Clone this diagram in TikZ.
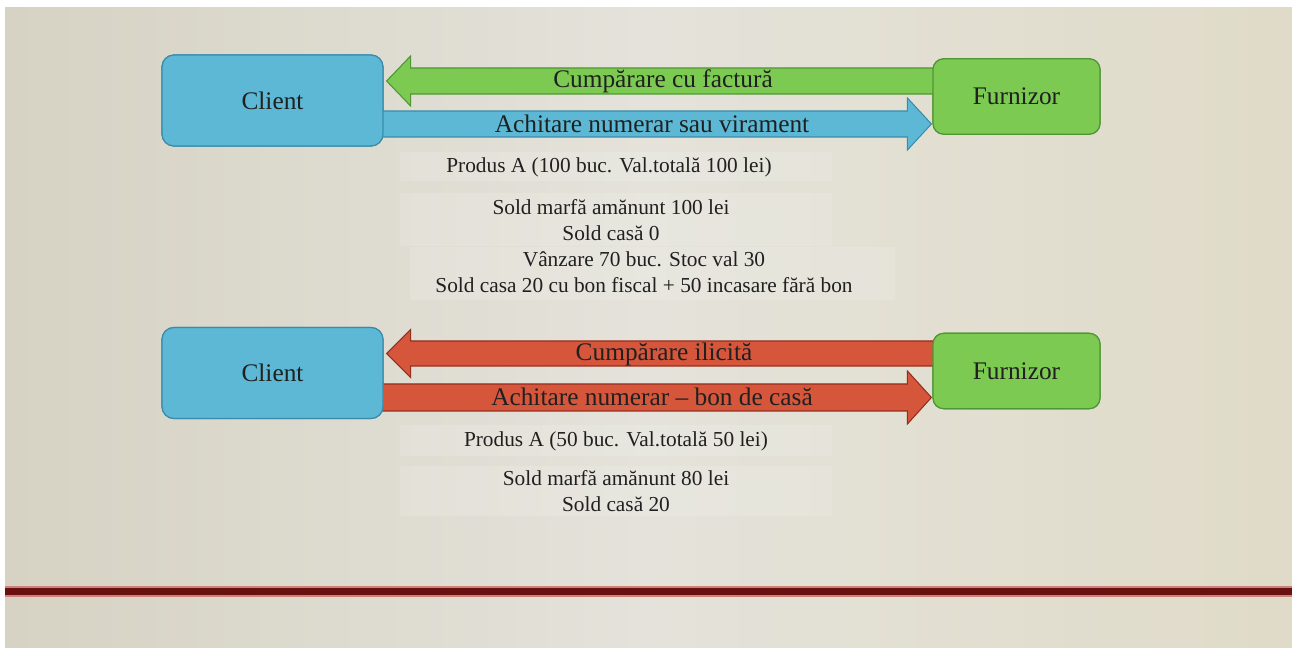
\documentclass[tikz,border=0pt]{standalone}
\usepackage{fontspec}
\setmainfont{Liberation Serif}
\usetikzlibrary{calc}
\definecolor{bgL}{RGB}{214,211,196}
\definecolor{bgM}{RGB}{228,226,218}
\definecolor{bgR}{RGB}{224,219,200}
\definecolor{boxblue}{RGB}{92,184,213}
\definecolor{boxblueD}{RGB}{58,140,170}
\definecolor{boxgreen}{RGB}{124,202,82}
\definecolor{boxgreenD}{RGB}{78,150,52}
\definecolor{arrred}{RGB}{214,86,60}
\definecolor{arrredD}{RGB}{150,45,28}
\definecolor{txt}{RGB}{32,32,32}
\definecolor{lineD}{RGB}{105,16,16}
\definecolor{lineL}{RGB}{205,130,120}
\tikzset{
  cbox/.style={draw=boxblueD, line width=0.9pt, fill=boxblue, rounded corners=9pt,
    minimum width=165.75pt, minimum height=68.25pt, inner sep=0pt,
    font=\fontsize{19}{22}\selectfont, text=txt},
  fbox/.style={draw=boxgreenD, line width=0.9pt, fill=boxgreen, rounded corners=8pt,
    minimum width=125.25pt, minimum height=56.5pt, inner sep=0pt,
    font=\fontsize{19}{22}\selectfont, text=txt},
  blueA/.style={draw=boxblueD, line width=0.8pt, fill=boxblue},
  greenA/.style={draw=boxgreenD, line width=0.8pt, fill=boxgreen},
  redA/.style={draw=arrredD, line width=0.8pt, fill=arrred},
  arrtext/.style={font=\fontsize{19}{22}\selectfont, text=txt, inner sep=0pt},
  bodytext/.style={font=\fontsize{16}{19.5}\selectfont, text=txt, inner sep=0pt, align=center},
  panel/.style={fill=white, fill opacity=0.14, draw=none}
}
% left-pointing block arrow: #1 style, #2 tail, #3 tip, #4 shaft half, #5 head half
\newcommand{\leftblock}[5]{%
  \draw[#1] ($(#2)+(2,-#4)$) -- ($(#3)+(27,-#4)$) -- ($(#3)+(27,-#5)$) -- ($(#3)+(3,0)$)
    -- ($(#3)+(27,#5)$) -- ($(#3)+(27,#4)$) -- ($(#2)+(2,#4)$) -- cycle;}
\newcommand{\rightblock}[5]{%
  \draw[#1] ($(#2)+(-2,-#4)$) -- ($(#3)+(-25,-#4)$) -- ($(#3)+(-25,-#5)$) -- ($(#3)+(-1,0)$)
    -- ($(#3)+(-25,#5)$) -- ($(#3)+(-25,#4)$) -- ($(#2)+(-2,#4)$) -- cycle;}
\begin{document}
\begin{tikzpicture}[x=0.75pt,y=-0.75pt]
\useasboundingbox (0,0) rectangle (1292,648);
\fill[white] (0,0) rectangle (1292,648);
\shade[left color=bgL, right color=bgR, middle color=bgM] (5,8) rectangle (1292,648);
% panels behind text
\fill[panel] (400,152) rectangle (832,181);
\fill[panel] (400,193) rectangle (832,246);
\fill[panel] (410,247) rectangle (895,300);
\fill[panel] (400,425) rectangle (832,456);
\fill[panel] (400,466) rectangle (832,516);
% nodes (placed first for anchors, redrawn later on top)
\path node[cbox] (c1) at (272.5,100.5) {} node[fbox] (f1) at (1016.5,96.5) {}
      node[cbox] (c2) at (272.5,373) {} node[fbox] (f2) at (1016.5,371) {};
% anchor coordinates for arrows
\coordinate (g1tip) at (c1.east |- 0,81);
\coordinate (g1tail) at (f1.west |- 0,81);
\coordinate (b1tail) at (c1.east |- 0,124);
\coordinate (b1tip) at (f1.west |- 0,124);
\coordinate (r1tip) at (c2.east |- 0,353.5);
\coordinate (r1tail) at (f2.west |- 0,353.5);
\coordinate (r2tail) at (c2.east |- 0,397.5);
\coordinate (r2tip) at (f2.west |- 0,397.5);
\leftblock{greenA}{g1tail}{g1tip}{13}{25}
\rightblock{blueA}{b1tail}{b1tip}{13}{26}
\leftblock{redA}{r1tail}{r1tip}{12.5}{24}
\rightblock{redA}{r2tail}{r2tip}{13.5}{26.5}
% boxes on top
\node[cbox] at (c1) {Client};
\node[fbox] at (f1) {Furnizor};
\node[cbox] at (c2) {Client};
\node[fbox] at (f2) {Furnizor};
% arrow labels
\node[arrtext] (t1) at (663,81) {Cumpărare cu factură};
\node[arrtext] (t2) at (652,124) {Achitare numerar sau virament};
\node[arrtext] (t3) at (664,354) {Cumpărare ilicită};
\node[arrtext] (t4) at (652,397) {Achitare numerar – bon de casă};
% body text
\node[bodytext] (p1) at (609,167) {Produs A (100 buc. Val.totală 100 lei)};
\node[bodytext] (s1) at (611,220) {Sold marfă amănunt 100 lei\\Sold casă 0};
\node[bodytext] (s2) at (644,272) {Vânzare 70 buc. Stoc val 30\\Sold casa 20 cu bon fiscal + 50 incasare fără bon};
\node[bodytext] (p2) at (616,441) {Produs A (50 buc. Val.totală 50 lei)};
\node[bodytext] (s3) at (616,491) {Sold marfă amănunt 80 lei\\Sold casă 20};
% bottom rule
\draw[lineL, line width=1.2pt] (5,587) -- (1292,587);
\draw[lineL, line width=1.2pt] (5,596) -- (1292,596);
\draw[lineD, line width=4.8pt] (5,591.5) -- (1292,591.5);
\end{tikzpicture}
\end{document}
